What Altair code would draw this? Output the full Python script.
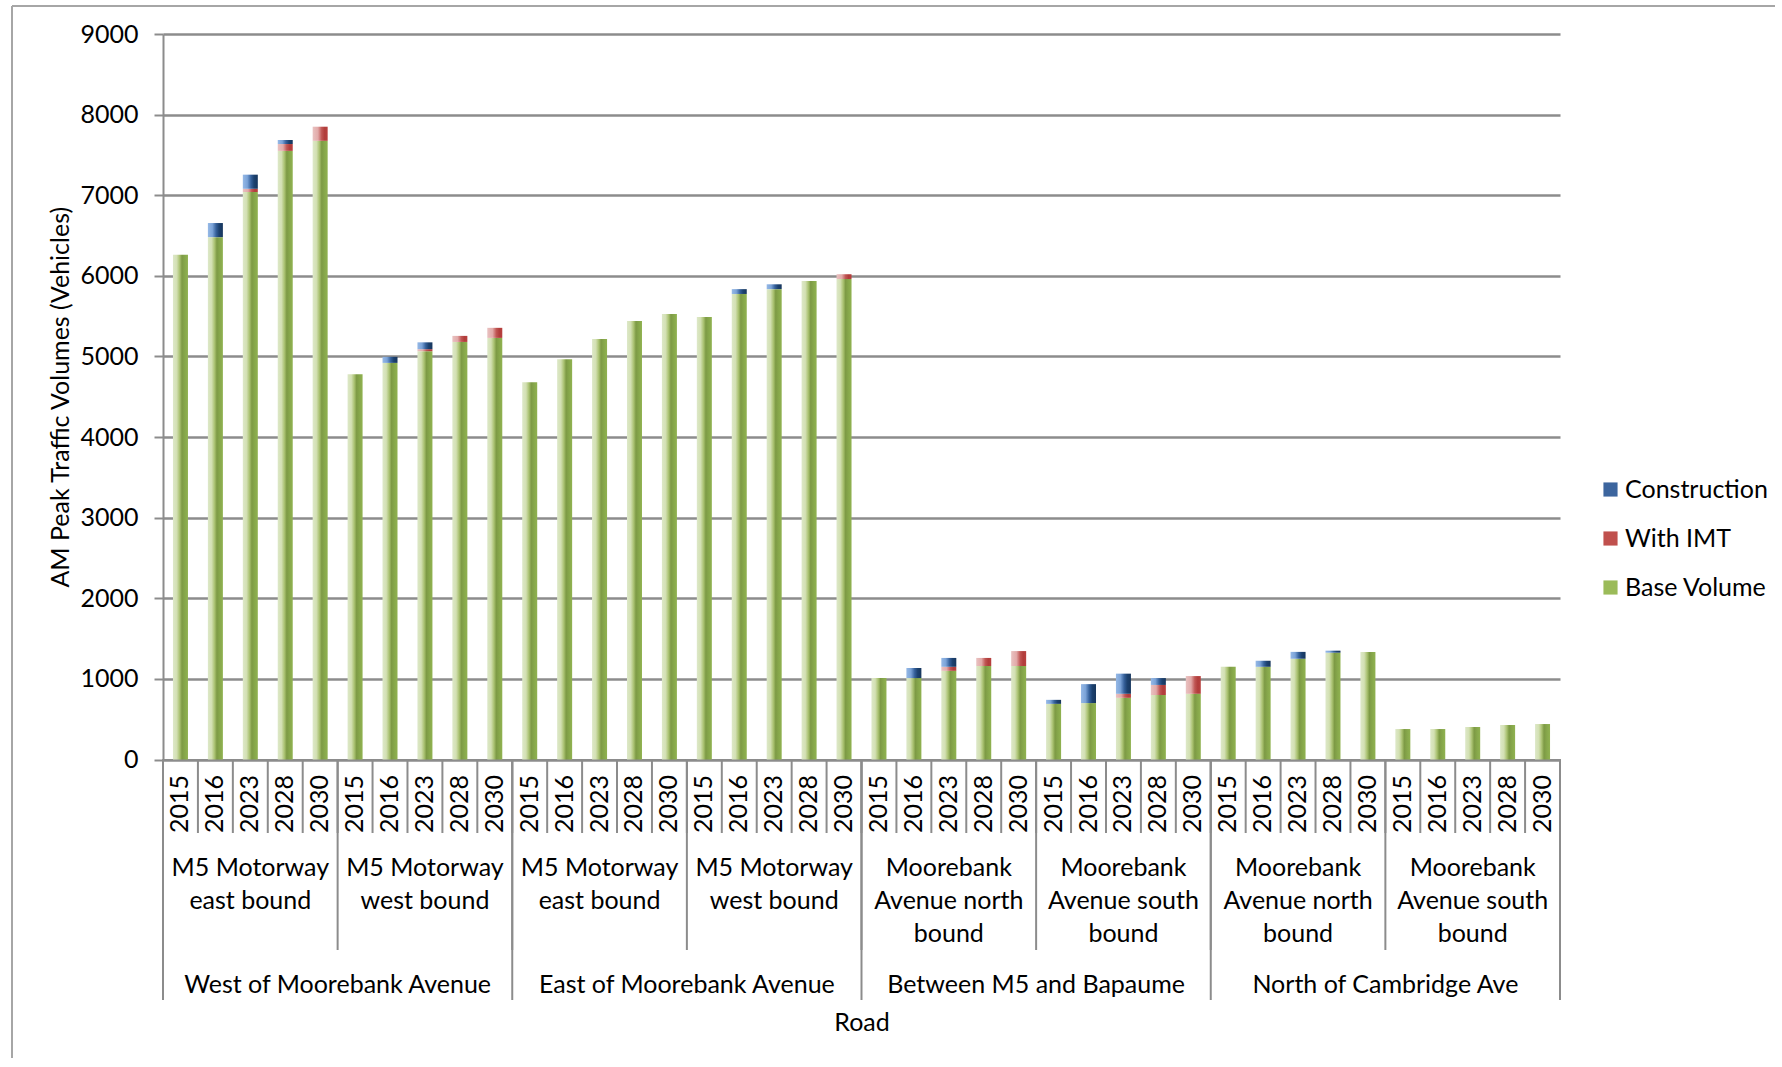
import altair as alt
import pandas as pd

years = ["2015", "2016", "2023", "2028", "2030"]
roads = [
    "M5 Motorway\neast bound",
    "M5 Motorway\nwest bound",
    "M5 Motorway\neast bound",
    "M5 Motorway\nwest bound",
    "Moorebank\nAvenue north\nbound",
    "Moorebank\nAvenue south\nbound",
    "Moorebank\nAvenue north\nbound",
    "Moorebank\nAvenue south\nbound",
]
locations = [
    "West of Moorebank Avenue",
    "East of Moorebank Avenue",
    "Between M5 and Bapaume",
    "North of Cambridge Ave",
]
series = ["Construction", "With IMT", "Base Volume"]

base_volume = [6260, 6480, 7040, 7550, 7675,
               4780, 4920, 5065, 5180, 5230,
               4680, 4965, 5215, 5440, 5525,
               5490, 5775, 5835, 5935, 5960,
               1010, 1010, 1100, 1160, 1160,
               690, 700, 765, 800, 815,
               1150, 1150, 1250, 1325, 1335,
               378, 378, 403, 428, 440]
with_imt = [0, 0, 40, 85, 175,
            0, 0, 25, 75, 125,
            0, 0, 0, 0, 0,
            0, 0, 0, 0, 60,
            0, 0, 50, 100, 185,
            0, 0, 50, 125, 220,
            0, 0, 0, 0, 0,
            0, 0, 0, 0, 0]
construction = [0, 175, 175, 50, 0,
                0, 75, 85, 0, 0,
                0, 0, 0, 0, 0,
                0, 60, 60, 0, 0,
                0, 125, 110, 0, 0,
                50, 235, 250, 85, 0,
                0, 75, 85, 25, 0,
                0, 0, 0, 0, 0]

n = len(base_volume)
df = pd.DataFrame({
    "idx": list(range(n)),
    "year": [years[i % 5] for i in range(n)],
    "base": base_volume,
    "imt": with_imt,
    "cons": construction,
})
df["b1"] = df["base"] + df["imt"]
df["b2"] = df["b1"] + df["cons"]

bounds = pd.DataFrame({"k": list(range(n + 1))})
bounds["idx"] = bounds["k"] - 0.5
road_df = pd.DataFrame({"idx": [5 * i + 2 for i in range(len(roads))], "label": roads})
loc_df = pd.DataFrame({"idx": [10 * i + 4.5 for i in range(len(locations))], "label": locations})
legend_df = pd.DataFrame({"series": series, "idx": [0, 0, 0]})

FONT = "Lato"
FS = 25
W, H = 1397, 725.5
GRID = "#8c8c8c"


def grad(stops):
    return alt.LinearGradient(
        gradient="linear", x1=0, x2=1, y1=0, y2=0,
        stops=[alt.GradientStop(offset=o, color=c) for o, c in stops],
    )


green = grad([(0, "#dde8c8"), (0.25, "#d3e0b3"), (0.45, "#a9c170"), (0.6, "#7d9a45"), (0.8, "#87a84b"), (1, "#90b250")])
red = grad([(0, "#e9c2c1"), (0.35, "#e2aaa9"), (0.6, "#c05654"), (0.8, "#b13d3b"), (1, "#b8403e")])
blue = grad([(0, "#96b9e6"), (0.3, "#7ba3d8"), (0.55, "#35609a"), (0.75, "#1c416f"), (1, "#17365d")])

xscale = alt.Scale(domain=[-0.5, n - 0.5], nice=False, zero=False, padding=0)
xaxis = alt.Axis(labels=False, ticks=False, grid=False, domain=True, domainColor=GRID,
                 domainWidth=2, title="Road", titleFont=FONT, titleFontSize=FS,
                 titleFontWeight="normal", titleColor="#000", titlePadding=251)
yscale = alt.Scale(domain=[0, 9000], nice=False)
yaxis = alt.Axis(values=list(range(0, 9001, 1000)), format="d", title="AM Peak Traffic Volumes (Vehicles)",
                 titleFont=FONT, titleFontSize=FS, titleFontWeight="normal", titleColor="#000",
                 titlePadding=6, labelFont=FONT, labelFontSize=FS, labelColor="#000",
                 labelPadding=16, tickSize=9, tickColor=GRID, tickWidth=2, domainColor=GRID,
                 domainWidth=2, gridColor=GRID, gridWidth=2.5)

X = alt.X("idx:Q", scale=xscale, axis=xaxis)

base_bars = alt.Chart(df).mark_bar(size=15, color=green).encode(
    x=X,
    y=alt.Y("zero:Q", scale=yscale, axis=yaxis),
    y2="base:Q",
).transform_calculate(zero="0")
imt_bars = alt.Chart(df).mark_bar(size=15, color=red).encode(
    x=X, y=alt.Y("base:Q", scale=yscale, axis=yaxis), y2="b1:Q"
).transform_filter("datum.imt > 0")
cons_bars = alt.Chart(df).mark_bar(size=15, color=blue).encode(
    x=X, y=alt.Y("b1:Q", scale=yscale, axis=yaxis), y2="b2:Q"
).transform_filter("datum.cons > 0")

legend_layer = alt.Chart(legend_df).mark_point(opacity=0, filled=True).encode(
    x=X,
    y=alt.value(0),
    color=alt.Color("series:N", scale=alt.Scale(domain=series, range=["#3c659e", "#c0504d", "#9bbb59"]),
                    legend=alt.Legend(title=None, orient="none", legendX=1435, legendY=443,
                                      symbolType="square", symbolSize=200, symbolOpacity=1,
                                      symbolStrokeWidth=0, labelFont=FONT, labelFontSize=FS,
                                      labelColor="#000", labelOffset=2, rowPadding=23)),
)

year_text = alt.Chart(df).mark_text(angle=270, font=FONT, fontSize=FS, color="#000",
                                    align="center", baseline="middle").encode(
    x=X, y=alt.value(770), text="year:N")

sep_minor = alt.Chart(bounds).mark_rule(color=GRID, strokeWidth=2).encode(
    x=X, y=alt.value(H), y2=alt.value(799))
sep_road = alt.Chart(bounds).mark_rule(color=GRID, strokeWidth=2).encode(
    x=X, y=alt.value(H), y2=alt.value(916)).transform_filter("datum.k % 5 == 0")
sep_loc = alt.Chart(bounds).mark_rule(color=GRID, strokeWidth=2).encode(
    x=X, y=alt.value(H), y2=alt.value(966)).transform_filter("datum.k % 10 == 0")

road_text = alt.Chart(road_df).mark_text(font=FONT, fontSize=FS, color="#000", align="center",
                                         baseline="top", lineBreak="\n", lineHeight=33).encode(
    x=X, y=alt.value(822), text="label:N")
loc_text = alt.Chart(loc_df).mark_text(font=FONT, fontSize=FS, color="#000", align="center",
                                       baseline="alphabetic").encode(
    x=X, y=alt.value(959), text="label:N")

dummy = pd.DataFrame({"k": [0]})
frame_left = alt.Chart(dummy).mark_rule(color="#a6a6a6", strokeWidth=2).encode(
    x=alt.value(-151), y=alt.value(-28), y2=alt.value(1058 - 34))
frame_top = alt.Chart(dummy).mark_rule(color="#a6a6a6", strokeWidth=2).encode(
    x=alt.value(-151), x2=alt.value(1775 - 163), y=alt.value(-28))

chart = alt.layer(
    base_bars, imt_bars, cons_bars, legend_layer,
    sep_minor, sep_road, sep_loc, year_text, road_text, loc_text,
    frame_left, frame_top,
).properties(
    width=W, height=H,
    padding={"left": 11, "top": 5, "right": 0, "bottom": 0},
    background="white",
).configure_view(strokeWidth=0)

chart.save("out.html", embed_options={"renderer": "svg", "actions": False})
